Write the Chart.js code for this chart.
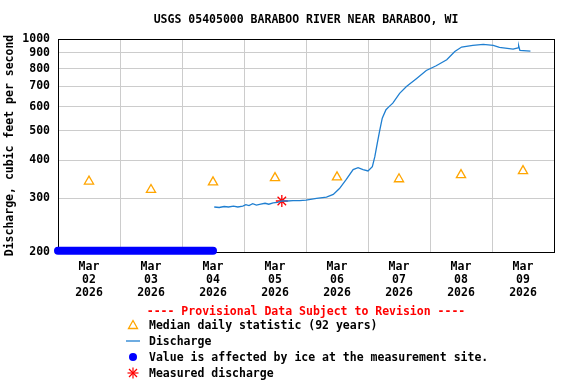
<!DOCTYPE html>
<html>
<head>
<meta charset="utf-8">
<script src="https://cdn.jsdelivr.net/npm/chart.js@4"></script>
<style>
  body { margin: 0; background: #fff; }
  #caja { position: relative; width: 576px; height: 384px; }
  #leyenda { position: absolute; left: 0; top: 0; width: 576px; height: 384px; pointer-events: none;
    font: bold 11.5px "DejaVu Sans Mono", monospace; color: #000; }
  .fila { position: absolute; left: 149px; height: 16px; line-height: 16px; white-space: pre; }
  .icono { position: absolute; left: 126px; width: 14px; height: 16px; }
  #provisional { position: absolute; left: 0; width: 612px; text-align: center; top: 303px; line-height: 16px; color: #f00; }
</style>
</head>
<body>
<div id="caja">
  <canvas id="grafico" width="576" height="384"></canvas>
  <div id="leyenda">
    <div id="provisional">---- Provisional Data Subject to Revision ----</div>
    <svg class="icono" style="top:317px" viewBox="0 0 14 16"><polygon points="7,3.5 11.5,11.5 2.5,11.5" fill="none" stroke="#FFA500" stroke-width="1.3"/></svg>
    <div class="fila" style="top:317px">Median daily statistic (92 years)</div>
    <svg class="icono" style="top:333px" viewBox="0 0 14 16"><line x1="0" y1="8" x2="14" y2="8" stroke="#1f7fd1" stroke-width="1.3"/></svg>
    <div class="fila" style="top:333px">Discharge</div>
    <svg class="icono" style="top:349px" viewBox="0 0 14 16"><circle cx="7" cy="8" r="4" fill="#0000ff"/></svg>
    <div class="fila" style="top:349px">Value is affected by ice at the measurement site.</div>
    <svg class="icono" style="top:365px" viewBox="0 0 14 16"><g stroke="#ff0000" stroke-width="1.2"><line x1="7" y1="2.5" x2="7" y2="13.5"/><line x1="1.5" y1="8" x2="12.5" y2="8"/><line x1="3" y1="4" x2="11" y2="12"/><line x1="11" y1="4" x2="3" y2="12"/></g></svg>
    <div class="fila" style="top:365px">Measured discharge</div>
  </div>
</div>
<script>
const contexto = document.querySelector('#grafico');

const titulo = 'USGS 05405000 BARABOO RIVER NEAR BARABOO, WI';

// dias contados desde Mar 02 00:00
const etiquetasMes = ['Mar', 'Mar', 'Mar', 'Mar', 'Mar', 'Mar', 'Mar', 'Mar'];
const etiquetasDia = ['02', '03', '04', '05', '06', '07', '08', '09'];
const etiquetaAnio = '2026';
const ticksY = [200, 300, 400, 500, 600, 700, 800, 900, 1000];

const medianaDias = [0.5, 1.5, 2.5, 3.5, 4.5, 5.5, 6.5, 7.5];
const medianaCaudal = [341, 320, 339, 350, 352, 347, 358, 369];

const caudalDias = [2.52, 2.60, 2.68, 2.75, 2.83, 2.90, 2.98, 3.03, 3.08, 3.14, 3.20, 3.27, 3.34, 3.40,
  3.47, 3.54, 3.61, 3.70, 3.79, 3.90, 4.00, 4.17, 4.33, 4.44, 4.54, 4.65, 4.76, 4.84, 4.92, 5.00,
  5.07, 5.11, 5.15, 5.19, 5.23, 5.29, 5.34, 5.40, 5.51, 5.62, 5.78, 5.94, 6.10, 6.27, 6.40, 6.51,
  6.69, 6.86, 7.02, 7.12, 7.34, 7.42, 7.43, 7.45, 7.62];
const caudalValores = [281, 280, 282, 281, 283, 281, 283, 286, 284, 288, 285, 287, 289, 287,
  290, 291, 294, 294, 295, 295, 296, 300, 303, 309, 323, 346, 373, 378, 373, 369,
  381, 411, 455, 502, 550, 586, 600, 616, 663, 698, 741, 788, 817, 855, 910, 941,
  953, 960, 953, 938, 927, 935, 950, 917, 913];

const hieloDias = [0, 2.5];
const hieloValores = [202, 202];

const medicionDias = [3.61];
const medicionValores = [294];

function pares(xs, ys) {
    return xs.map((x, i) => ({ x: x, y: ys[i] }));
}

const fuente = { family: 'DejaVu Sans Mono', size: 11.5, weight: 'bold' };

// marco negro y titulo centrado sobre el area del grafico
const marco = {
    id: 'marco',
    beforeDatasetsDraw(chart) {
        const a = chart.chartArea;
        const ctx = chart.ctx;
        ctx.save();
        ctx.strokeStyle = '#000';
        ctx.lineWidth = 1;
        ctx.strokeRect(Math.round(a.left) + 0.5, Math.round(a.top) + 0.5,
            Math.round(a.right - a.left), Math.round(a.bottom - a.top));
        ctx.fillStyle = '#000';
        ctx.font = 'bold 11.5px "DejaVu Sans Mono"';
        ctx.textAlign = 'center';
        ctx.textBaseline = 'middle';
        ctx.fillText(titulo, (a.left + a.right) / 2, 20);
        ctx.restore();
    }
};

new Chart(contexto, {
    type: 'scatter',
    data: {
        datasets: [
            {
                label: 'Value is affected by ice at the measurement site.',
                data: pares(hieloDias, hieloValores),
                showLine: true,
                borderColor: '#0000ff',
                borderWidth: 8,
                borderCapStyle: 'round',
                pointRadius: 0,
                clip: false
            },
            {
                label: 'Discharge',
                data: pares(caudalDias, caudalValores),
                showLine: true,
                borderColor: '#1f7fd1',
                borderWidth: 1.3,
                pointRadius: 0,
                tension: 0
            },
            {
                label: 'Median daily statistic (92 years)',
                data: pares(medianaDias, medianaCaudal),
                pointStyle: 'triangle',
                pointRadius: 5.3,
                borderColor: '#FFA500',
                backgroundColor: 'rgba(0,0,0,0)',
                borderWidth: 1.3
            },
            {
                label: 'Measured discharge',
                data: pares(medicionDias, medicionValores),
                pointStyle: 'star',
                pointRadius: 6,
                borderColor: '#ff0000',
                backgroundColor: '#ff0000',
                borderWidth: 1.3
            }
        ]
    },
    options: {
        responsive: false,
        animation: false,
        devicePixelRatio: 1,
        layout: { padding: { left: 0, right: 22, top: 39, bottom: 0 } },
        scales: {
            x: {
                type: 'linear',
                min: 0,
                max: 8,
                afterBuildTicks: function (escala) {
                    const t = [];
                    for (let v = 0; v <= 8; v += 0.5) t.push({ value: v });
                    escala.ticks = t;
                },
                afterFit: function (escala) { escala.height = 132; },
                grid: {
                    drawTicks: false,
                    color: function (c) {
                        const v = c.tick ? c.tick.value : 0;
                        return (v % 1 === 0 && v > 0 && v < 8) ? '#cccccc' : 'rgba(0,0,0,0)';
                    },
                    lineWidth: 1
                },
                border: { display: false },
                ticks: {
                    autoSkip: false,
                    maxRotation: 0,
                    padding: 9,
                    color: '#000',
                    font: Object.assign({ lineHeight: 1.13 }, fuente),
                    callback: function (valor) {
                        if (valor % 1 !== 0.5) return '';
                        const i = Math.floor(valor);
                        return [etiquetasMes[i], etiquetasDia[i], etiquetaAnio];
                    }
                }
            },
            y: {
                type: 'logarithmic',
                min: 200,
                max: 1000,
                afterBuildTicks: function (escala) {
                    escala.ticks = ticksY.map(v => ({ value: v }));
                },
                afterFit: function (escala) { escala.width = 58; },
                grid: {
                    drawTicks: false,
                    color: function (c) {
                        const v = c.tick ? c.tick.value : 0;
                        return (v > 200 && v < 1000) ? '#cccccc' : 'rgba(0,0,0,0)';
                    }
                },
                border: { display: false },
                title: {
                    display: true,
                    text: 'Discharge, cubic feet per second',
                    color: '#000',
                    font: fuente,
                    padding: { top: 3, bottom: 0 }
                },
                ticks: {
                    padding: 8,
                    color: '#000',
                    font: fuente,
                    callback: function (valor) { return String(valor); }
                }
            }
        },
        plugins: {
            legend: { display: false },
            tooltip: { enabled: false },
            title: { display: false }
        }
    },
    plugins: [marco]
});
</script>
</body>
</html>
